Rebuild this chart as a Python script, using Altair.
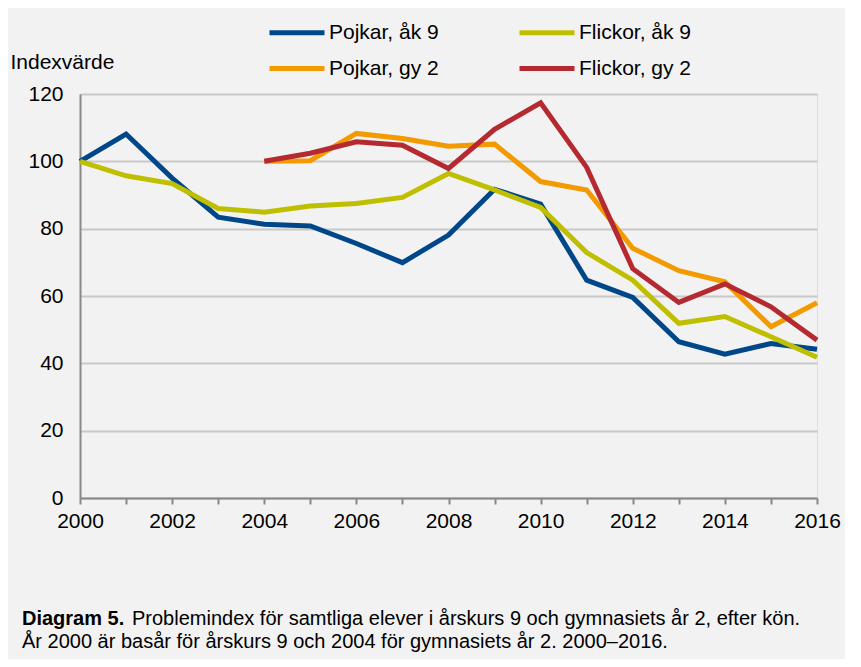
import altair as alt
import pandas as pd

years = list(range(2000, 2017))
years_gy = list(range(2004, 2017))
pojkar_ak9 = [100, 108.1, 95.0, 83.4, 81.3, 80.8, 75.6, 69.9, 78.1, 91.7, 87.3, 64.7, 59.6, 46.4, 42.7, 45.9, 44.2]
flickor_ak9 = [100, 95.7, 93.4, 86.0, 84.9, 86.7, 87.5, 89.3, 96.4, 91.5, 86.3, 72.9, 64.7, 51.9, 53.9, 47.9, 41.8]
pojkar_gy2 = [100, 100.2, 108.3, 106.8, 104.5, 105.1, 94.0, 91.5, 74.2, 67.5, 64.2, 50.9, 58.0]
flickor_gy2 = [100, 102.4, 105.8, 104.8, 97.9, 109.5, 117.4, 98.2, 68.1, 58.1, 63.6, 56.8, 46.9]

series_names = ["Pojkar, åk 9", "Flickor, åk 9", "Pojkar, gy 2", "Flickor, gy 2"]
series_colors = ["#00478a", "#bfbf00", "#f39a00", "#b42a30"]

caption_bold = ["Diagram 5."]
caption_rest = ["Problemindex för samtliga elever i årskurs 9 och gymnasiets år 2, efter kön."]
caption_line2 = ["År 2000 är basår för årskurs 9 och 2004 för gymnasiets år 2. 2000–2016."]

rows = []
for name, xs, vals in [
    (series_names[0], years, pojkar_ak9),
    (series_names[1], years, flickor_ak9),
    (series_names[2], years_gy, pojkar_gy2),
    (series_names[3], years_gy, flickor_gy2),
]:
    for x, v in zip(xs, vals):
        rows.append({"year": x, "value": v, "series": name})
df = pd.DataFrame(rows)

FONT = "Liberation Sans"
FS = 21
CAP_FS = 20

lines = alt.Chart(df).mark_line(strokeWidth=5, strokeJoin="miter").encode(
    x=alt.X("year:Q",
            scale=alt.Scale(domain=[2000, 2016], nice=False, zero=False),
            axis=alt.Axis(values=years, format="d", title=None, grid=False,
                          labelExpr="datum.value % 2 == 0 ? datum.label : ''",
                          labelFlush=False, labelOverlap=False,
                          tickColor="#888888", tickWidth=2, tickSize=6,
                          labelPadding=6, labelFontSize=FS, labelColor="#000000",
                          domainColor="#888888", domainWidth=2)),
    y=alt.Y("value:Q",
            scale=alt.Scale(domain=[0, 120], nice=False),
            axis=alt.Axis(values=[0, 20, 40, 60, 80, 100, 120], ticks=False,
                          title="Indexvärde", titleAngle=0, titleAlign="left",
                          titleBaseline="middle", titleX=-70, titleY=-32,
                          titleFontSize=FS, titleFontWeight="normal", titleColor="#000000",
                          labelPadding=17, labelFontSize=FS, labelColor="#000000",
                          gridColor="#c8c8c8", gridWidth=2,
                          domainColor="#888888", domainWidth=2)),
    color=alt.Color("series:N",
                    scale=alt.Scale(domain=series_names, range=series_colors),
                    sort=series_names,
                    legend=alt.Legend(title=None, orient="none", legendX=227, legendY=-72,
                                      direction="horizontal",
                                      columns=2, columnPadding=70, rowPadding=14,
                                      symbolType="M-19.2,0L2.8,0", symbolSize=25,
                                      symbolStrokeWidth=5, labelOffset=1,
                                      labelFontSize=FS, labelColor="#000000",
                                      padding=0)),
)

cap1 = alt.Chart(pd.DataFrame({"t": caption_bold})).mark_text(
    align="left", baseline="alphabetic", fontSize=CAP_FS, fontWeight="bold", font=FONT, color="#000000"
).encode(text="t:N", x=alt.value(-58), y=alt.value(531))

cap2 = alt.Chart(pd.DataFrame({"t": caption_rest})).mark_text(
    align="left", baseline="alphabetic", fontSize=CAP_FS, font=FONT, color="#000000"
).encode(text="t:N", x=alt.value(52), y=alt.value(531))

cap3 = alt.Chart(pd.DataFrame({"t": caption_line2})).mark_text(
    align="left", baseline="alphabetic", fontSize=CAP_FS, font=FONT, color="#000000"
).encode(text="t:N", x=alt.value(-58), y=alt.value(554))

chart = alt.layer(lines, cap1, cap2, cap3).properties(
    width=737, height=404,
    autosize=alt.AutoSizeParams(type="none"),
    padding={"left": 72, "top": 86, "right": 28, "bottom": 161},
    background="#f2f2f2",
).configure_view(
    fill="#ffffff", stroke="#888888", strokeWidth=2
).configure(font=FONT)

chart.save("out.html", embed_options={"renderer": "svg", "actions": False})
